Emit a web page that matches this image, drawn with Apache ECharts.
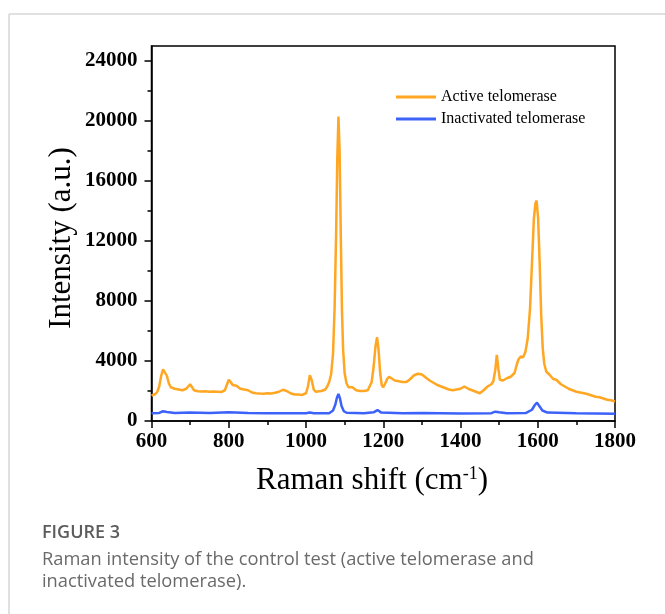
<!DOCTYPE html>
<html>
<head>
<meta charset="utf-8">
<script src="https://cdn.jsdelivr.net/npm/echarts@6/dist/echarts.min.js"></script>
<style>
html,body{margin:0;padding:0;background:#fff;}
#chart{width:665px;height:614px;}
</style>
</head>
<body>
<div id="chart"></div>
<script>
// Raman shift (cm-1) and intensity for active telomerase
const activeShift = [600,605,610,615,620,625,630,635,640,645,650,660,670,680,690,700,705,710,720,730,740,750,760,770,780,790,795,800,805,810,815,820,830,840,850,860,870,880,890,900,910,920,930,940,950,960,970,980,990,1000,1005,1010,1015,1020,1025,1030,1040,1050,1055,1060,1065,1070,1074,1078,1081,1084,1087,1090,1093,1096,1100,1105,1110,1115,1120,1125,1130,1140,1150,1160,1165,1170,1175,1180,1184,1188,1192,1196,1200,1205,1210,1215,1220,1230,1240,1250,1260,1270,1280,1290,1300,1310,1320,1330,1340,1350,1360,1370,1380,1390,1400,1410,1420,1430,1440,1450,1460,1470,1480,1485,1490,1494,1498,1502,1510,1520,1530,1540,1545,1550,1556,1562,1568,1574,1580,1585,1590,1594,1597,1601,1605,1609,1613,1617,1622,1630,1640,1648,1652,1660,1670,1680,1690,1700,1710,1720,1730,1740,1750,1760,1770,1780,1790,1800];
const activeIntensity = [1700,1750,1800,1950,2300,3000,3450,3400,3000,2500,2250,2150,2100,2050,2150,2450,2350,2050,1980,1960,1980,1950,1960,1950,1930,2050,2400,2750,2600,2400,2450,2350,2150,2100,2050,1900,1850,1830,1820,1850,1830,1880,1950,2080,2000,1850,1770,1760,1740,1850,2300,3050,2700,2100,1950,1920,2000,2100,2300,2600,3100,4500,7500,12500,17500,20300,18000,12500,7500,4800,3200,2500,2250,2200,2250,2150,2050,2000,2000,2050,2150,2600,3600,5000,5580,4700,3200,2400,2250,2500,2800,2950,2850,2700,2650,2600,2600,2800,3050,3150,3100,2900,2700,2550,2400,2300,2200,2100,2050,2100,2150,2300,2150,2050,1950,1850,2050,2300,2450,2650,3400,4400,3500,2750,2700,2850,2950,3200,3700,4100,4300,4250,4600,5500,7500,10500,13500,14500,14700,13500,10500,7000,4800,3800,3300,3100,2800,2750,2700,2450,2300,2150,2050,1950,1900,1850,1780,1700,1620,1580,1500,1420,1380,1300];
// Raman shift (cm-1) and intensity for inactivated telomerase
const inactiveShift = [600,620,630,640,660,700,750,800,850,900,950,1000,1010,1020,1060,1070,1076,1080,1084,1088,1092,1098,1105,1150,1175,1185,1195,1250,1300,1400,1480,1490,1494,1500,1520,1570,1585,1592,1598,1604,1612,1625,1700,1800];
const inactiveIntensity = [520,540,650,600,540,560,530,580,540,520,520,510,560,510,520,700,1100,1550,1800,1500,1000,650,550,520,580,730,560,520,530,500,520,620,690,580,520,540,750,1050,1220,1000,700,560,520,490];
const xTicks = [600,800,1000,1200,1400,1600,1800];
const yTicks = [0,4000,8000,12000,16000,20000,24000];
const yMinorTicks = [2000,6000,10000,14000,18000,22000];
const seriesNames = ['Active telomerase','Inactivated telomerase'];

const pair = (xs, ys) => xs.map((x, i) => [x, ys[i]]);
const serif = "'Liberation Serif','Times New Roman',serif";
const plain = v => String(v);

const chart = echarts.init(document.getElementById('chart'), null, {renderer:'canvas'});
chart.setOption({
  animation:false,
  backgroundColor:'#fff',
  grid:{left:151.5, right:50, top:46, bottom:193, show:true, borderColor:'#000', borderWidth:1.5, backgroundColor:'transparent'},
  legend:{
    orient:'vertical', left:396, top:89, padding:0, itemGap:6, itemWidth:40, itemHeight:3,
    icon:'rect',
    textStyle:{fontFamily:serif, fontSize:16, color:'#000'},
    data:seriesNames
  },
  xAxis:{
    type:'value', min:600, max:1800, interval:200,
    axisLine:{show:true, lineStyle:{color:'#000', width:1.5}},
    axisTick:{show:true, inside:false, length:7, lineStyle:{color:'#000', width:1.5}},
    minorTick:{show:true, splitNumber:2, length:4, lineStyle:{color:'#000', width:1.5}},
    splitLine:{show:false},
    axisLabel:{fontFamily:serif, fontWeight:'bold', fontSize:21, color:'#000', margin:10, customValues:xTicks, formatter:plain}
  },
  yAxis:[{
    type:'value', min:0, max:25000, interval:4000,
    axisLine:{show:true, lineStyle:{color:'#000', width:1.5}},
    axisTick:{show:true, inside:false, length:7, lineStyle:{color:'#000', width:1.5}, customValues:yTicks},
    splitLine:{show:false},
    axisLabel:{fontFamily:serif, fontWeight:'bold', fontSize:21, color:'#000', margin:14, customValues:yTicks, formatter:plain}
  },{
    type:'value', min:0, max:25000, position:'left', offset:0,
    axisLine:{show:false},
    axisTick:{show:true, inside:false, length:4, lineStyle:{color:'#000', width:1.5}, customValues:yMinorTicks},
    splitLine:{show:false},
    axisLabel:{show:false}
  }],
  series:[{
    name:seriesNames[0], type:'line', symbol:'none', smooth:false,
    lineStyle:{color:'#FFA622', width:2.5}, itemStyle:{color:'#FFA622'},
    data:pair(activeShift, activeIntensity), z:2
  },{
    name:seriesNames[1], type:'line', symbol:'none', smooth:false,
    lineStyle:{color:'#3D62FA', width:2.5}, itemStyle:{color:'#3D62FA'},
    data:pair(inactiveShift, inactiveIntensity), z:3
  }],
  graphic:[
    {type:'line', shape:{x1:9, y1:14, x2:665, y2:14}, style:{stroke:'#d6d6d6', lineWidth:1.5}},
    {type:'line', shape:{x1:9, y1:14, x2:9, y2:614}, style:{stroke:'#d6d6d6', lineWidth:1.5}},
    {type:'text', x:62, y:238, rotation:Math.PI/2, style:{text:'Intensity (a.u.)', font:"31px 'Liberation Serif'", fill:'#000', align:'center', verticalAlign:'middle'}},
    {type:'text', x:372, y:481, style:{
      text:'{a|Raman shift (cm}{s|-1}{a|)}', align:'center', verticalAlign:'middle',
      rich:{a:{fontFamily:serif, fontSize:31, color:'#000'}, s:{fontFamily:serif, fontSize:18, color:'#000', verticalAlign:'top', padding:[0,0,14,0]}}
    }},
    {type:'text', left:42, top:524, style:{text:'FIGURE 3', font:"600 18px 'Open Sans'", fill:'#5c5c5c'}},
    {type:'text', left:42, top:551, style:{text:'Raman intensity of the control test (active telomerase and', font:"18.3px 'Open Sans'", fill:'#6a6a6a'}},
    {type:'text', left:42, top:573, style:{text:'inactivated telomerase).', font:"18.3px 'Open Sans'", fill:'#6a6a6a'}}
  ]
});
</script>
</body>
</html>
